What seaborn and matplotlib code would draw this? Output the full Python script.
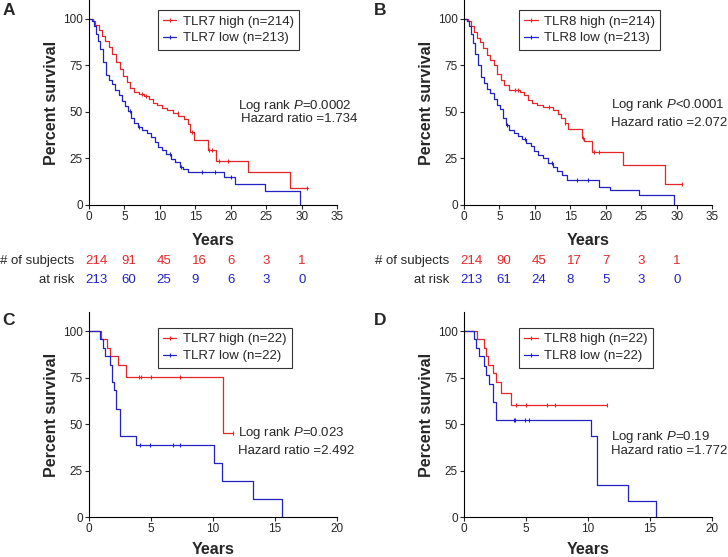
import numpy as np
import pandas as pd
import matplotlib
matplotlib.use('Agg')
import matplotlib.pyplot as plt
from matplotlib.lines import Line2D
import seaborn as sns

# Kaplan-Meier step points (time in years, percent survival)
a_hi_t = [0, 0.5, 0.9, 1.4, 1.8, 2.3, 2.8, 3.3, 3.8, 4.3, 4.8, 5.3, 5.8, 6.3, 7.0, 7.8, 8.5, 9.0, 9.6,
          10.3, 11.0, 11.8, 12.6, 13.4, 13.9, 14.3, 14.8, 16.8, 17.9, 22.4, 28.4, 30.9]
a_hi_s = [100, 99, 97, 94, 91, 88, 85, 81, 77, 73, 69.5, 66, 63, 61, 59.5, 58.5, 57, 55, 53.5,
          52, 51, 49.5, 48, 46, 43.5, 39.5, 35, 29.6, 23.7, 17.6, 9, 9]
a_lo_t = [0, 0.4, 0.7, 1.0, 1.3, 1.6, 2.0, 2.4, 2.8, 3.2, 3.7, 4.2, 4.7, 5.1, 5.5, 5.9, 6.3, 6.9, 7.5,
          8.2, 8.8, 9.3, 9.8, 10.3, 10.9, 11.5, 12.1, 12.8, 13.3, 14.0, 19.0, 20.6, 24.8, 29.8]
a_lo_s = [100, 99, 96, 92, 88, 84, 77, 70, 67, 65, 62, 59, 56, 53, 50.5, 47, 44, 42, 40.5,
          38.5, 36.5, 34, 31, 29.5, 27.5, 24.5, 23, 20.6, 19.5, 17.9, 14.8, 11.3, 7.7, 0]

b_hi_t = [0, 0.5, 1.0, 1.4, 1.8, 2.2, 2.7, 3.2, 3.7, 4.2, 4.7, 5.2, 5.7, 6.3, 7.9, 8.4, 9.0, 9.6,
          10.3, 11.1, 12.6, 13.2, 13.7, 14.2, 14.7, 16.6, 17.0, 18.0, 22.4, 28.4, 30.8]
b_hi_s = [100, 99, 96, 93, 90, 87.5, 84.5, 80.5, 78, 75, 70.5, 67, 64.5, 62, 61, 59, 56.5, 55,
          54, 52.8, 51, 49, 46.5, 44, 41, 36, 34.5, 28.7, 21.5, 11.1, 11.1]
b_lo_t = [0, 0.4, 0.7, 1.0, 1.3, 1.6, 2.0, 2.4, 2.8, 3.2, 3.7, 4.2, 4.7, 5.1, 5.5, 5.9, 6.4, 7.0,
          7.6, 8.2, 8.8, 9.4, 9.9, 10.5, 11.1, 11.8, 12.5, 13.1, 13.8, 14.6, 19.0, 20.6, 24.7, 29.7]
b_lo_s = [100, 99, 96, 92, 87, 81, 75.3, 69, 65.5, 62.5, 60, 57, 54, 51.5, 47, 43, 40.5, 38.5,
          37, 35.5, 33.5, 31.5, 29, 27, 25, 22.5, 20.5, 18.5, 16, 13.4, 9.9, 8.1, 5.4, 0]

c_hi_t = [0, 1.0, 1.45, 1.7, 2.3, 3.0, 10.8, 11.6]
c_hi_s = [100, 95.5, 90.9, 86.4, 81.8, 75.5, 45.3, 45.3]
c_lo_t = [0, 0.86, 1.1, 1.3, 1.7, 1.85, 2.0, 2.2, 2.5, 3.8, 10.1, 10.75, 13.2, 15.6]
c_lo_s = [100, 95.5, 90.9, 86.4, 81.8, 72.7, 68.2, 58.0, 43.6, 38.8, 29.1, 19.4, 9.7, 0]

d_hi_t = [0, 1.07, 1.6, 1.75, 1.9, 2.3, 2.55, 2.95, 3.75, 11.5]
d_hi_s = [100, 95.5, 90.9, 86.4, 81.8, 77.3, 72.7, 66.7, 60.0, 60.0]
d_lo_t = [0, 0.8, 1.0, 1.2, 1.6, 1.75, 2.0, 2.3, 2.6, 10.2, 10.7, 13.2, 15.5]
d_lo_s = [100, 95.5, 90.9, 86.4, 81.0, 76.2, 71.4, 61.9, 52.4, 43.6, 17.4, 8.7, 0]

# censor marks
a_hi_cens = [7.5, 8.0, 12.5, 14.5, 16.9, 17.3, 18.3, 19.6, 30.8]
a_lo_cens = [5.8, 7.0, 11.4, 13.0, 16.0, 17.8, 20.1]
b_hi_cens = [7.2, 7.6, 12.0, 14.3, 16.8, 18.3, 19.0, 30.8]
b_lo_cens = [6.0, 8.6, 12.4, 16.0, 17.5]
c_hi_cens = [4.0, 4.2, 5.0, 7.3, 11.6]
c_lo_cens = [4.1, 4.9, 6.8, 7.3]
d_hi_cens = [4.2, 5.0, 6.7, 7.3, 11.5]
d_lo_cens = [4.0, 4.1, 4.9, 5.2]

# numbers at risk
risk_times = [0, 5, 10, 15, 20, 25, 30]
a_hi_risk = [214, 91, 45, 16, 6, 3, 1]
a_lo_risk = [213, 60, 25, 9, 6, 3, 0]
b_hi_risk = [214, 90, 45, 17, 7, 3, 1]
b_lo_risk = [213, 61, 24, 8, 5, 3, 0]

RED = '#e52629'
BLUE = '#2222c4'

sns.set_style('ticks')
plt.rcParams['font.family'] = ['Liberation Sans', 'DejaVu Sans']
plt.rcParams['mathtext.fontset'] = 'custom'
plt.rcParams['mathtext.it'] = 'Liberation Sans:italic'
plt.rcParams['mathtext.rm'] = 'Liberation Sans'


def surv_at(t, s, x):
    idx = np.searchsorted(t, x, side='right') - 1
    return np.asarray(s)[idx]


def km_panel(ax, hi_t, hi_s, lo_t, lo_s, hi_c, lo_c, gene, n_hi, n_lo, xmax,
             leg_xy, p_txt, hr_txt, txt_pos):
    df = pd.concat([
        pd.DataFrame({'t': hi_t, 's': hi_s, 'g': 'high'}),
        pd.DataFrame({'t': lo_t, 's': lo_s, 'g': 'low'}),
    ])
    for g, col in [('high', RED), ('low', BLUE)]:
        sub = df[df.g == g]
        sns.lineplot(data=sub, x='t', y='s', color=col, drawstyle='steps-post',
                     estimator=None, sort=False, linewidth=0.9, ax=ax)
    ax.plot(hi_c, surv_at(hi_t, hi_s, hi_c), ls='none', marker='|', ms=3, mew=0.8, color=RED)
    ax.plot(lo_c, surv_at(lo_t, lo_s, lo_c), ls='none', marker='|', ms=3, mew=0.8, color=BLUE)

    ax.set_xlim(0, xmax)
    ax.set_ylim(0, 110)
    ax.set_xticks(np.arange(0, xmax + 1, 5))
    ax.set_yticks([0, 25, 50, 75, 100])
    ax.tick_params(labelsize=8.5, length=3, width=0.8, pad=1.5)
    for sp in ['left', 'bottom']:
        ax.spines[sp].set_linewidth(0.8)
        ax.spines[sp].set_color('black')
    sns.despine(ax=ax)
    ax.set_xlabel('Years', fontsize=11.5, fontweight='bold')
    ax.set_ylabel('Percent survival', fontsize=11.5, fontweight='bold')
    ax.yaxis.set_label_coords(-0.12, 0.5)

    handles = [Line2D([0], [0], color=RED, lw=0.9, marker='|', ms=3, mew=0.8),
               Line2D([0], [0], color=BLUE, lw=0.9, marker='|', ms=3, mew=0.8)]
    labels = [f'{gene} high (n={n_hi})', f'{gene} low (n={n_lo})']
    leg = ax.legend(handles, labels, loc='upper left', bbox_to_anchor=leg_xy,
                    borderaxespad=0, fontsize=9.5, frameon=True, fancybox=False,
                    framealpha=1, edgecolor='#333333', handlelength=1.0,
                    handletextpad=0.5, labelspacing=0.35, borderpad=0.4)
    leg.get_frame().set_linewidth(0.8)

    ax.text(txt_pos[0][0], txt_pos[0][1], p_txt, transform=ax.transAxes,
            fontsize=9.5, va='center', ha='left')
    ax.text(txt_pos[1][0], txt_pos[1][1], hr_txt, transform=ax.transAxes,
            fontsize=9.5, va='center', ha='left')


def risk_table(ax, hi, lo):
    tr = ax.get_xaxis_transform()
    ax.text(-15 / 248 * 35, -0.274, '# of subjects', transform=tr, ha='right',
            va='center', fontsize=9.5)
    ax.text(-15 / 248 * 35, -0.365, 'at risk', transform=tr, ha='right',
            va='center', fontsize=9.5)
    for t, h, l in zip(risk_times, hi, lo):
        ax.text(t - 0.5, -0.274, str(h), transform=tr, ha='left', va='center',
                fontsize=9.5, color=RED)
        ax.text(t - 0.5, -0.365, str(l), transform=tr, ha='left', va='center',
                fontsize=9.5, color=BLUE)


fig = plt.figure(figsize=(7.28, 5.57), dpi=100)
axA = fig.add_axes([0.1223, 0.632, 0.3407, 0.3673])
axB = fig.add_axes([0.6374, 0.632, 0.3407, 0.3673])
axC = fig.add_axes([0.1223, 0.0718, 0.3407, 0.3673])
axD = fig.add_axes([0.6374, 0.0718, 0.3407, 0.3673])

km_panel(axA, a_hi_t, a_hi_s, a_lo_t, a_lo_s, a_hi_cens, a_lo_cens, 'TLR7', 214, 213, 35,
         (0.278, 0.953), 'Log rank $P$=0.0002', 'Hazard ratio =1.734',
         [(0.601, 0.484), (0.613, 0.420)])
km_panel(axB, b_hi_t, b_hi_s, b_lo_t, b_lo_s, b_hi_cens, b_lo_cens, 'TLR8', 214, 213, 35,
         (0.222, 0.953), 'Log rank $P$<0.0001', 'Hazard ratio =2.072',
         [(0.592, 0.489), (0.593, 0.402)])
km_panel(axC, c_hi_t, c_hi_s, c_lo_t, c_lo_s, c_hi_cens, c_lo_cens, 'TLR7', 22, 22, 20,
         (0.278, 0.924), 'Log rank $P$=0.023', 'Hazard ratio =2.492',
         [(0.601, 0.409), (0.601, 0.324)])
km_panel(axD, d_hi_t, d_hi_s, d_lo_t, d_lo_s, d_hi_cens, d_lo_cens, 'TLR8', 22, 22, 20,
         (0.222, 0.924), 'Log rank $P$=0.19', 'Hazard ratio =1.772',
         [(0.594, 0.392), (0.594, 0.324)])

axA.xaxis.set_label_coords(0.5, -0.135)
axB.xaxis.set_label_coords(0.5, -0.135)
axC.xaxis.set_label_coords(0.5, -0.12)
axD.xaxis.set_label_coords(0.5, -0.12)

risk_table(axA, a_hi_risk, a_lo_risk)
risk_table(axB, b_hi_risk, b_lo_risk)

for lab, x, y in [('A', 0.003, 0.995), ('B', 0.514, 0.995), ('C', 0.003, 0.438), ('D', 0.514, 0.438)]:
    fig.text(x, y, lab, fontsize=12.5, fontweight='bold', va='top', ha='left')

fig.savefig('out.png', dpi=100)
